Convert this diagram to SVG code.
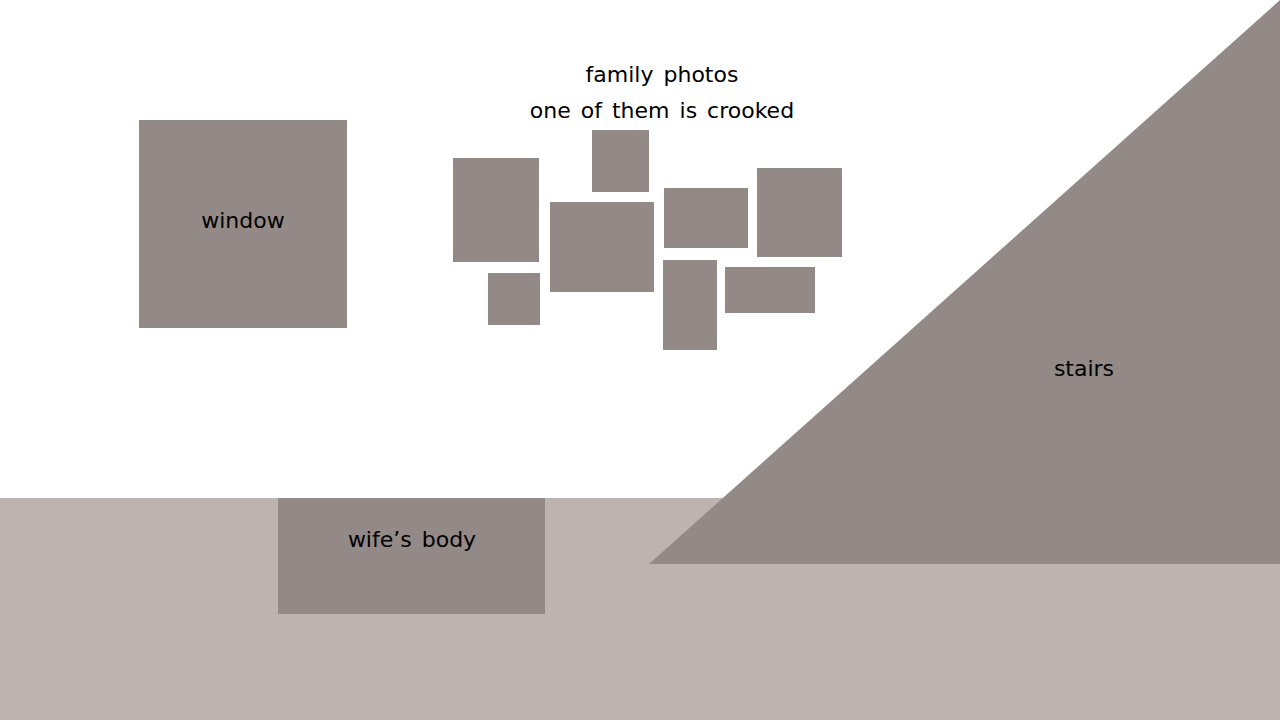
<svg xmlns="http://www.w3.org/2000/svg" width="1280" height="720" viewBox="0 0 1280 720">
<style>
.box{fill:#938a87}
.floor{fill:#bdb4b2}
text{font-family:"DejaVu Sans","Liberation Sans",sans-serif;font-size:22px;fill:#000;text-anchor:middle;word-spacing:3px}
</style>
<rect width="1280" height="720" fill="#ffffff"/>
<rect id="floor" class="floor" x="0" y="498" width="1280" height="222"/>
<g id="stairs">
<polygon class="box" points="1280,0 1280,564 649,564"/>
<text x="1084" y="376">stairs</text>
</g>
<g id="window">
<rect class="box" x="139" y="120" width="208" height="208"/>
<text x="243" y="228">window</text>
</g>
<g id="wife-body">
<rect class="box" x="278" y="498" width="267" height="116"/>
<text x="412" y="547">wife’s body</text>
</g>
<g id="family-photos">
<text x="662" y="82">family photos</text>
<text x="662" y="118">one of them is crooked</text>
<rect class="box" x="453" y="158" width="86" height="104"/>
<rect class="box" x="592" y="130" width="57" height="62"/>
<rect class="box" x="550" y="202" width="104" height="90"/>
<rect class="box" x="664" y="188" width="84" height="60"/>
<rect class="box" x="757" y="168" width="85" height="89"/>
<rect class="box" x="488" y="273" width="52" height="52"/>
<rect class="box" x="663" y="260" width="54" height="90"/>
<rect class="box" x="725" y="267" width="90" height="46"/>
</g>
</svg>
